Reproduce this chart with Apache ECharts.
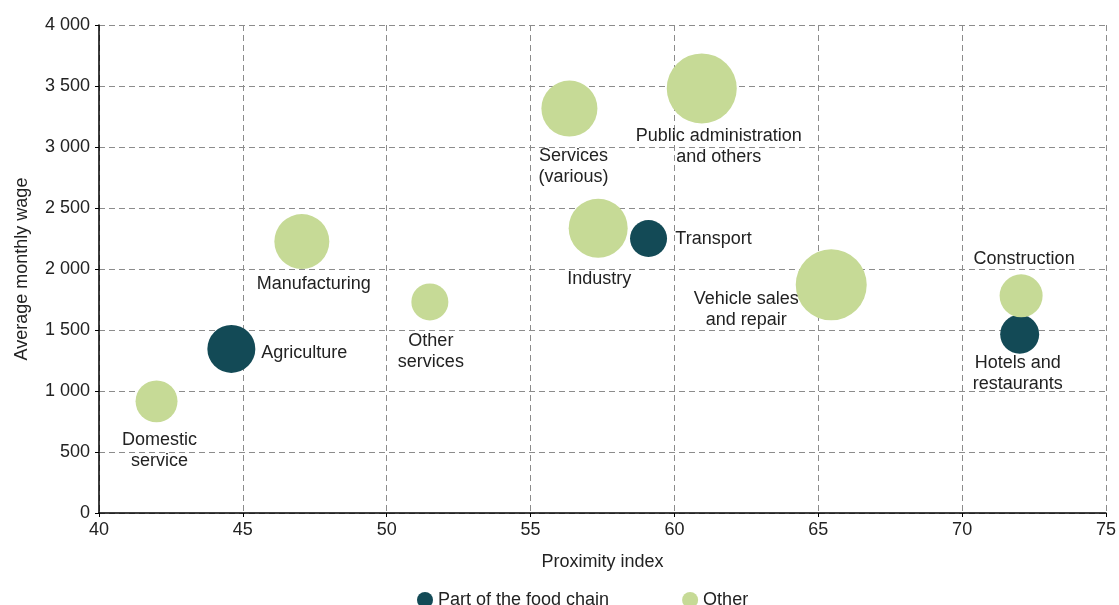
<!DOCTYPE html>
<html>
<head>
<meta charset="utf-8">
<title>Proximity index and wages</title>
<script src="https://cdn.jsdelivr.net/npm/echarts@6/dist/echarts.min.js"></script>
<style>
  html, body { margin: 0; padding: 0; background: #fff; }
  #chart { width: 1119px; height: 605px; }
</style>
</head>
<body>
<div id="chart"></div>
<script>
// data
var sectors = ['Domestic\nservice', 'Agriculture', 'Manufacturing', 'Other\nservices', 'Services\n(various)',
  'Public administration\nand others', 'Industry', 'Transport', 'Vehicle sales\nand repair', 'Construction',
  'Hotels and\nrestaurants'];
var proximity = [42.0, 44.6, 47.05, 51.5, 56.35, 60.95, 57.35, 59.1, 65.45, 72.05, 72.0];
var wage = [915, 1345, 2225, 1730, 3315, 3480, 2335, 2250, 1870, 1780, 1465];
var workers = [176, 230, 302, 137, 314, 490, 348, 137, 504, 185, 152]; // bubble size
var foodChain = [false, true, false, false, false, false, false, true, false, false, true];
var groups = ['Part of the food chain', 'Other'];
var xTicks = [40, 75, 5];
var yTicks = [0, 4000, 500];

// label offsets from bubble centre
var labelOffsets = [[3, 49], [73, 4], [12, 42], [1, 50], [4, 58], [17, 58], [1, 51], [65, 1], [-85, 25], [3, -37], [-2, 39]];

var colors = { 'Part of the food chain': '#134a56', 'Other': '#c6da96' };
var font = 'Liberation Sans, Arial, sans-serif';

function buildSeries(name) {
  var data = [];
  for (var i = 0; i < sectors.length; i++) {
    var isFood = foodChain[i];
    if ((name === groups[0]) !== isFood) continue;
    data.push({
      name: sectors[i],
      value: [proximity[i], wage[i], workers[i]],
      label: { offset: labelOffsets[i] }
    });
  }
  return {
    name: name,
    type: 'scatter',
    data: data,
    symbolSize: function (val) { return Math.sqrt(val[2] * 10); },
    itemStyle: { color: colors[name], opacity: 1 },
    emphasis: { disabled: true },
    label: {
      show: true,
      position: 'inside',
      align: 'center',
      verticalAlign: 'middle',
      formatter: '{b}',
      color: '#222',
      fontFamily: font,
      fontSize: 18,
      lineHeight: 21
    }
  };
}

var chart = echarts.init(document.getElementById('chart'));
var axisLabel = { color: '#222', fontFamily: font, fontSize: 18 };
var gridLine = { show: true, lineStyle: { color: '#8c8c8c', type: [6, 4], width: 1 } };

chart.setOption({
  animation: false,
  textStyle: { fontFamily: font },
  grid: { left: 99, right: 12, top: 25, bottom: 92 },
  legend: {
    left: 412,
    top: 586,
    icon: 'circle',
    itemWidth: 16,
    itemHeight: 16,
    itemGap: 73,
    textStyle: { color: '#222', fontFamily: font, fontSize: 18 },
    data: groups
  },
  xAxis: {
    type: 'value',
    min: xTicks[0],
    max: xTicks[1],
    interval: xTicks[2],
    name: 'Proximity index',
    nameLocation: 'middle',
    nameGap: 40,
    nameTextStyle: { color: '#222', fontFamily: font, fontSize: 18 },
    axisLine: { show: true, onZero: false, lineStyle: { color: '#000', width: 1.5 } },
    axisTick: { show: true, length: 4, lineStyle: { color: '#000' } },
    axisLabel: axisLabel,
    splitLine: gridLine
  },
  yAxis: {
    type: 'value',
    min: yTicks[0],
    max: yTicks[1],
    interval: yTicks[2],
    name: 'Average monthly wage',
    nameLocation: 'middle',
    nameGap: 68,
    nameTextStyle: { color: '#222', fontFamily: font, fontSize: 18 },
    axisLine: { show: true, lineStyle: { color: '#000', width: 1.5 } },
    axisTick: { show: true, length: 4, lineStyle: { color: '#000' } },
    axisLabel: {
      color: '#222', fontFamily: font, fontSize: 18, margin: 9,
      formatter: function (v) { return String(v).replace(/\B(?=(\d{3})+(?!\d))/g, ' '); }
    },
    splitLine: gridLine
  },
  series: [buildSeries(groups[0]), buildSeries(groups[1])]
});
</script>
</body>
</html>
